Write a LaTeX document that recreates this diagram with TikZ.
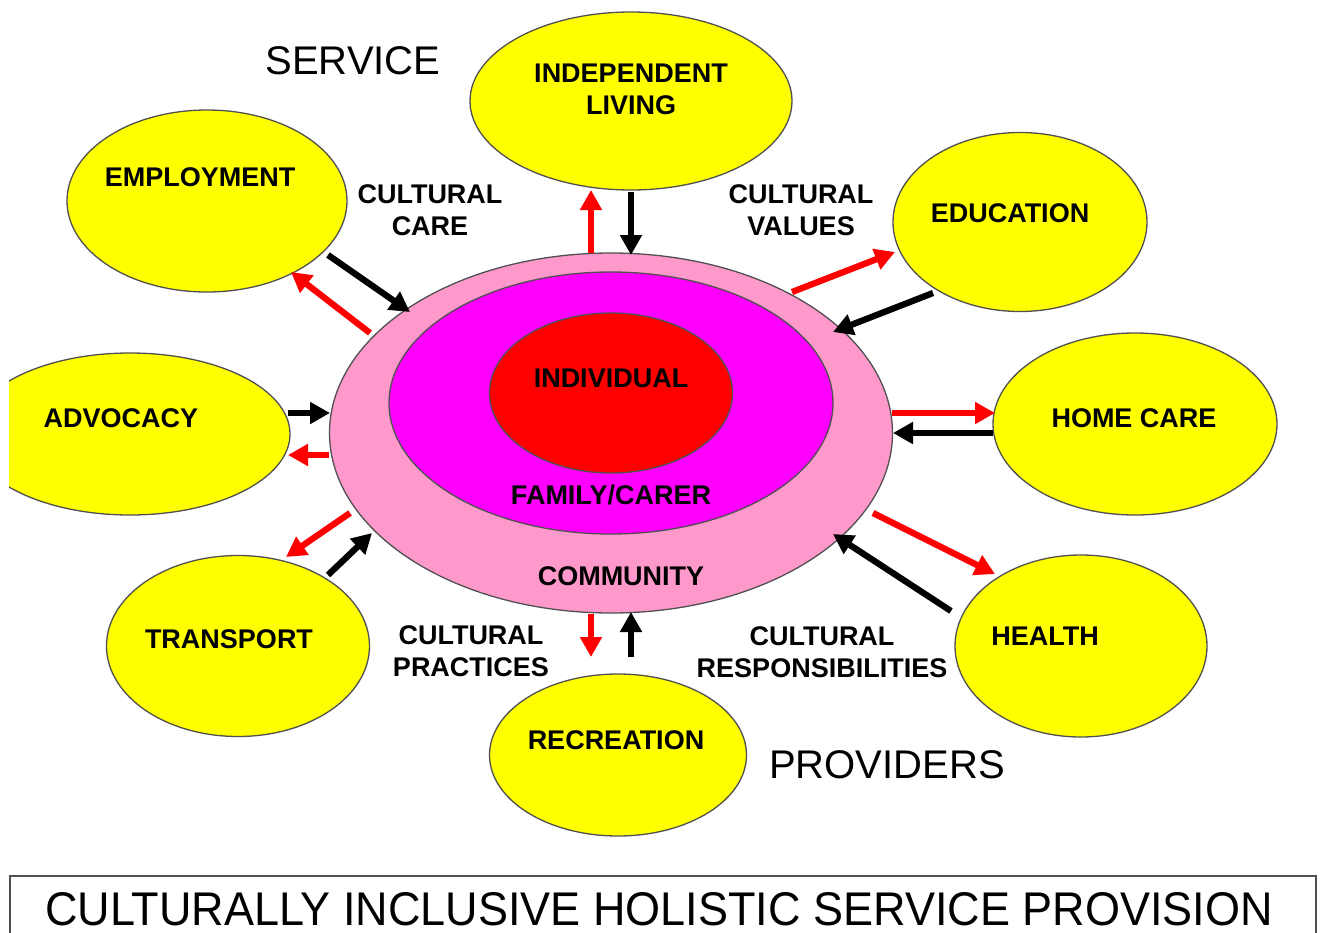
\documentclass[tikz,border=0pt]{standalone}
\usepackage{fontspec}
\setmainfont{Liberation Sans}
\usetikzlibrary{shapes.geometric,arrows.meta}

\definecolor{sunyellow}{RGB}{255,255,0}
\definecolor{communitypink}{RGB}{255,153,204}
\definecolor{familymagenta}{RGB}{255,0,255}
\definecolor{individualred}{RGB}{255,0,0}
\definecolor{rimgray}{RGB}{80,80,80}

\begin{document}
\begin{tikzpicture}[x=1pt,y=-1pt,
  oval/.style={ellipse, draw=rimgray, line width=1.3pt, inner sep=0pt},
  service/.style={oval, fill=sunyellow},
  lbl/.style={font=\bfseries\fontsize{27}{32}\selectfont, align=center, inner sep=0pt},
  big/.style={font=\fontsize{40}{46}\selectfont, inner sep=0pt, anchor=base},
  flow/.style={line width=6.3pt, -{Triangle[length=20pt,width=21pt]}},
  outflow/.style={flow, draw=individualred},
  inflow/.style={flow, draw=black}]

\useasboundingbox (0,0) rectangle (1323,932);

\begin{scope}
\clip (9,0) rectangle (1323,932);

% concentric circles of care
\node[oval, fill=communitypink, minimum width=563pt, minimum height=360pt] (community) at (611,433) {};
\node[oval, fill=familymagenta, minimum width=444pt, minimum height=262pt] (family) at (611,403) {};
\node[oval, fill=individualred, minimum width=243pt, minimum height=160pt] (individual) at (611,393) {};

% service providers
\node[service, minimum width=280pt, minimum height=182pt] (employment) at (207,201) {};
\node[service, minimum width=322pt, minimum height=178pt] (living) at (631,101) {};
\node[service, minimum width=254pt, minimum height=179pt] (education) at (1020,222) {};
\node[service, minimum width=284pt, minimum height=182pt] (homecare) at (1135,424) {};
\node[service, minimum width=252pt, minimum height=182pt] (health) at (1081,646) {};
\node[service, minimum width=257pt, minimum height=162pt] (recreation) at (618,755) {};
\node[service, minimum width=263pt, minimum height=181pt] (transport) at (238,646) {};
\node[service, minimum width=320pt, minimum height=162pt] (advocacy) at (130,434) {};
\end{scope}

% labels inside the ellipses
\node[lbl] (tIndividual) at (611,378) {INDIVIDUAL};
\node[lbl] (tFamily) at (611,495) {FAMILY/CARER};
\node[lbl] (tCommunity) at (621,576) {COMMUNITY};
\node[lbl] (tEmployment) at (200,177) {EMPLOYMENT};
\node[lbl] (tLiving) at (631,89) {INDEPENDENT\\LIVING};
\node[lbl] (tEducation) at (1010,213) {EDUCATION};
\node[lbl] (tHomecare) at (1134,418) {HOME CARE};
\node[lbl] (tHealth) at (1045,636) {HEALTH};
\node[lbl] (tRecreation) at (616,740) {RECREATION};
\node[lbl] (tTransport) at (229,639) {TRANSPORT};
\node[lbl] (tAdvocacy) at (121,418) {ADVOCACY};

% cultural dimensions
\node[lbl] (care) at (430,210) {CULTURAL\\CARE};
\node[lbl] (values) at (801,210) {CULTURAL\\VALUES};
\node[lbl] (practices) at (471,651) {CULTURAL\\PRACTICES};
\node[lbl] (responsibilities) at (822,652) {CULTURAL\\RESPONSIBILITIES};

\node[big] (service) at (353,74) {SERVICE};
\node[big] (providers) at (887,778) {PROVIDERS};

% arrow end points between the community ring and each provider
\coordinate (empOut1) at (370,333);  \coordinate (empOut2) at (291,272);
\coordinate (empIn1)  at (328,255);  \coordinate (empIn2)  at (410,312);
\coordinate (livOut1) at (591,253);  \coordinate (livOut2) at (591,190);
\coordinate (livIn1)  at (631,192);  \coordinate (livIn2)  at (631,255);
\coordinate (eduOut1) at (792,292);  \coordinate (eduOut2) at (895,252);
\coordinate (eduIn1)  at (933,293);  \coordinate (eduIn2)  at (833,332);
\coordinate (homOut1) at (892,413);  \coordinate (homOut2) at (995,413);
\coordinate (homIn1)  at (993,433);  \coordinate (homIn2)  at (893,433);
\coordinate (heaOut1) at (873,513);  \coordinate (heaOut2) at (995,574);
\coordinate (heaIn1)  at (951,611);  \coordinate (heaIn2)  at (833,534);
\coordinate (recOut1) at (591,614);  \coordinate (recOut2) at (591,657);
\coordinate (recIn1)  at (631,657);  \coordinate (recIn2)  at (631,612);
\coordinate (traOut1) at (350,513);  \coordinate (traOut2) at (286,557);
\coordinate (traIn1)  at (328,575);  \coordinate (traIn2)  at (372,533);
\coordinate (advIn1)  at (288,413);  \coordinate (advIn2)  at (330,413);
\coordinate (advOut1) at (329,455);  \coordinate (advOut2) at (288,455);

\draw[outflow] (empOut1) -- (empOut2);
\draw[inflow]  (empIn1) -- (empIn2);
\draw[outflow] (livOut1) -- (livOut2);
\draw[inflow]  (livIn1) -- (livIn2);
\draw[outflow] (eduOut1) -- (eduOut2);
\draw[inflow]  (eduIn1) -- (eduIn2);
\draw[outflow] (homOut1) -- (homOut2);
\draw[inflow]  (homIn1) -- (homIn2);
\draw[outflow] (heaOut1) -- (heaOut2);
\draw[inflow]  (heaIn1) -- (heaIn2);
\draw[outflow] (recOut1) -- (recOut2);
\draw[inflow]  (recIn1) -- (recIn2);
\draw[outflow] (traOut1) -- (traOut2);
\draw[inflow]  (traIn1) -- (traIn2);
\draw[inflow]  (advIn1) -- (advIn2);
\draw[outflow] (advOut1) -- (advOut2);

% title panel
\coordinate (panelBL) at (10,934);
\coordinate (panelTL) at (10,876);
\coordinate (panelTR) at (1316,876);
\coordinate (panelBR) at (1316,934);
\draw[rimgray, line width=2pt] (panelBL) -- (panelTL) -- (panelTR) -- (panelBR);
\node[inner sep=0pt, anchor=base west] (title) at (45,925)
  {\resizebox{1227pt}{33pt}{CULTURALLY INCLUSIVE HOLISTIC SERVICE PROVISION}};
\end{tikzpicture}
\end{document}
